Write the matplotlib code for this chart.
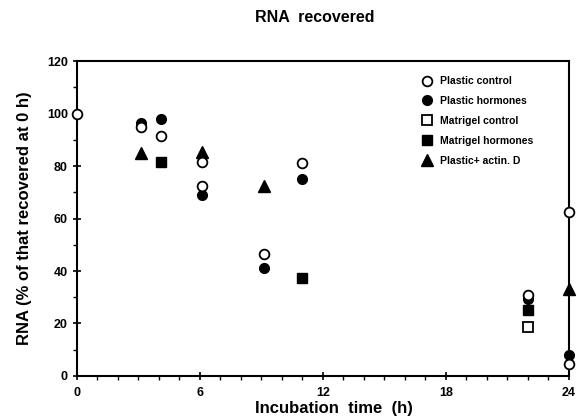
import matplotlib.pyplot as plt
from matplotlib.ticker import MultipleLocator

plt.rcParams['font.family'] = ['Liberation Sans', 'DejaVu Sans']

# Data
plasticControlX = [0, 3.1, 4.1, 6.1, 6.1, 9.1, 11.0, 22.0, 24, 24]
plasticControlY = [100, 95, 91.5, 81.5, 72.5, 46.5, 81, 31, 62.5, 4.5]

plasticHormonesX = [3.1, 4.1, 6.1, 9.1, 11.0, 22.0, 24]
plasticHormonesY = [96.5, 98, 69, 41, 75, 29.5, 8]

matrigelControlX = [22.0]
matrigelControlY = [18.5]

matrigelHormonesX = [4.1, 11.0, 22.0]
matrigelHormonesY = [81.5, 37.5, 25]

actinX = [3.1, 6.1, 9.1, 24]
actinY = [85, 85.5, 72.5, 33]

fig = plt.figure(figsize=(5.77, 4.18), dpi=100)
ax = fig.add_axes([0.1334, 0.1005, 0.8526, 0.7535])

ax.plot(plasticControlX, plasticControlY, 'o', mfc='white', mec='black', mew=1.3, ms=7, clip_on=False, zorder=4, label='Plastic control')
ax.plot(plasticHormonesX, plasticHormonesY, 'o', color='black', ms=7, clip_on=False, zorder=3, label='Plastic hormones')
ax.plot(matrigelControlX, matrigelControlY, 's', mfc='white', mec='black', mew=1.3, ms=6.5, clip_on=False, label='Matrigel control')
ax.plot(matrigelHormonesX, matrigelHormonesY, 's', color='black', ms=6.5, clip_on=False, label='Matrigel hormones')
ax.plot(actinX, actinY, '^', color='black', ms=9, clip_on=False, zorder=3, label='Plastic+ actin. D')

ax.set_xlim(0, 24)
ax.set_ylim(0, 120)
ax.xaxis.set_major_locator(MultipleLocator(6))
ax.xaxis.set_minor_locator(MultipleLocator(1))
ax.yaxis.set_major_locator(MultipleLocator(20))
ax.yaxis.set_minor_locator(MultipleLocator(10))
ax.tick_params(which='major', direction='inout', length=6, width=1.2, labelsize=9)
ax.tick_params(axis='x', which='major', pad=5)
ax.tick_params(which='minor', direction='out', length=3, width=1)
for lab in ax.get_xticklabels() + ax.get_yticklabels():
    lab.set_fontweight('bold')
for s in ax.spines.values():
    s.set_linewidth(1.5)

ax.set_xlabel('Incubation  time  (h)', fontsize=12, fontweight='bold')
ax.xaxis.set_label_coords(0.522, -0.078)
ax.set_ylabel('RNA (% of that recovered at 0 h)', fontsize=12, fontweight='bold', labelpad=11)
fig.text(0.546, 0.957, 'RNA  recovered', ha='center', va='center', fontsize=11.5, fontweight='bold')

leg = ax.legend(loc='upper right', bbox_to_anchor=(0.935, 0.965), frameon=False, fontsize=7.5,
                handletextpad=0.7, labelspacing=0.95, handlelength=1, borderaxespad=0)
for t in leg.get_texts():
    t.set_fontweight('bold')

plt.savefig('out.png', dpi=100)
